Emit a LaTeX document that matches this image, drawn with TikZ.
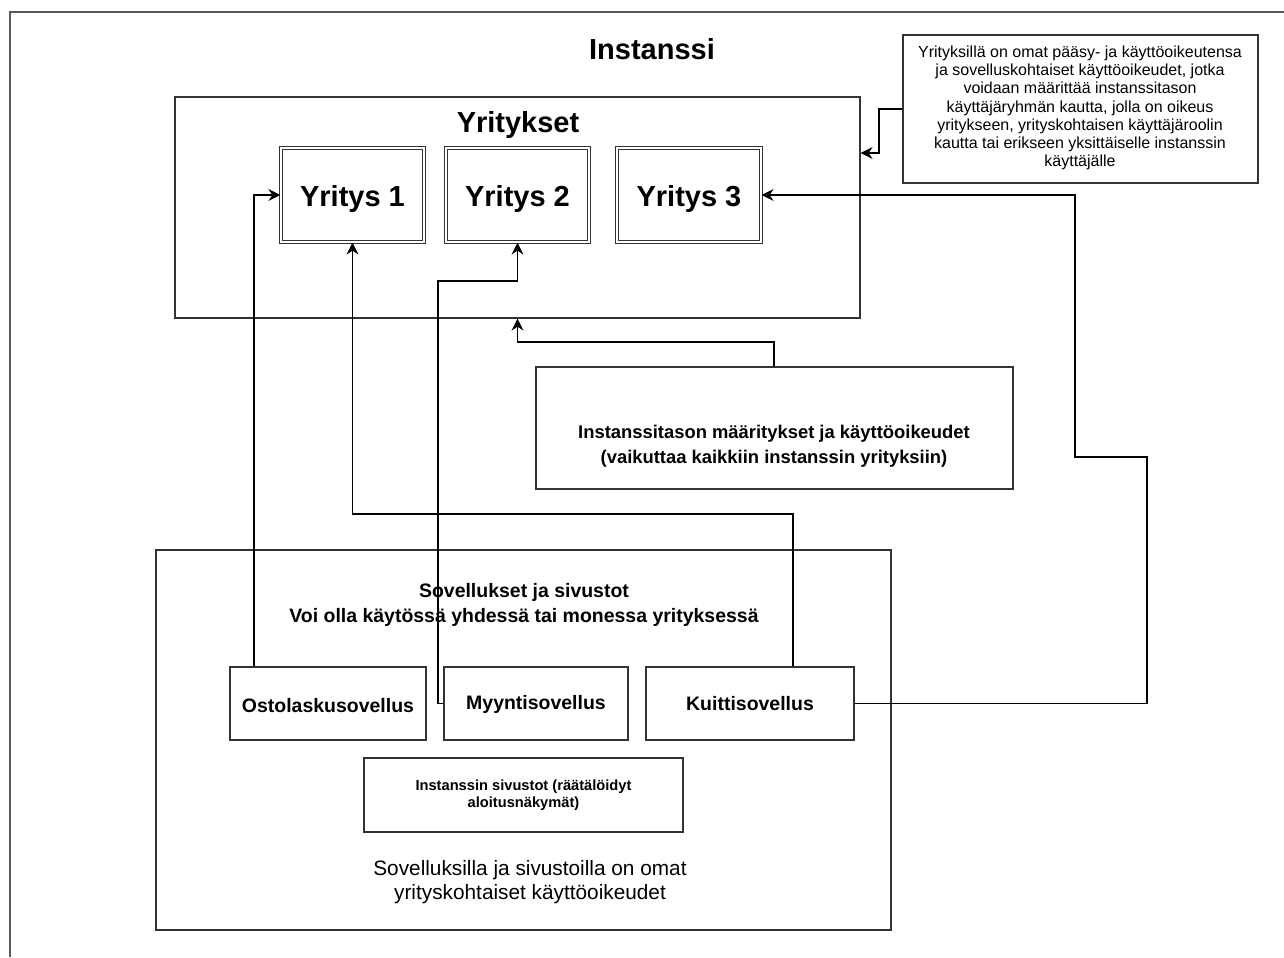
\documentclass[tikz,border=0pt]{standalone}
\usepackage{fontspec}
\setmainfont{Liberation Sans}
\usetikzlibrary{arrows.meta,fit}

\begin{document}
\begin{tikzpicture}[x=0.75pt,y=-0.75pt,
  line/.style={draw=black!80, line width=0.9pt},
  box/.style={line, rectangle, inner sep=0pt},
  firm/.style={draw=black!80, double, double distance=1.5pt, line width=0.9pt, rectangle, inner sep=0pt},
  conn/.style={draw=black, line width=0.9pt, -{Stealth[length=9pt,width=9pt,inset=3pt]}},
  txt/.style={inner sep=0pt, align=center, text=black},
  title/.style={txt, font=\fontsize{21.75pt}{26pt}\selectfont\bfseries},
]
\useasboundingbox (0,0) rectangle (1284,957);

% frame of the whole instance
\draw[draw=black!65, line width=0.9pt] (1284,12) -- (10,12) -- (10,957);
\node[title] (ttl) at (652,49) {Instanssi};

% companies
\node[box, fit={(175,97) (860,318)}] (yrit) {};
\node[title] (yrittl) at (518,125) {Yritykset};
\node[firm, fit={(281,148) (424,242)}] (y1) {};
\node[firm, fit={(446,148) (589,242)}] (y2) {};
\node[firm, fit={(617,148) (761,242)}] (y3) {};
\node[title] at ([yshift=-3pt]y1.center) {Yritys 1};
\node[title] at ([yshift=-3pt]y2.center) {Yritys 2};
\node[title] at ([yshift=-3pt]y3.center) {Yritys 3};

% note on access rights
\node[box, fit={(903,35) (1258,183)}] (note) {};
\node[txt, font=\fontsize{12pt}{13.7pt}\selectfont] at (1080,108)
  {Yrityksillä on omat pääsy- ja käyttöoikeutensa\\
   ja sovelluskohtaiset käyttöoikeudet, jotka\\
   voidaan määrittää instanssitason\\
   käyttäjäryhmän kautta, jolla on oikeus\\
   yritykseen, yrityskohtaisen käyttäjäroolin\\
   kautta tai erikseen yksittäiselle instanssin\\
   käyttäjälle};

% instance level settings
\node[box, fit={(536,367) (1013,489)}] (inst) {};
\node[txt, font=\fontsize{13.8pt}{18.75pt}\selectfont\bfseries] at (774,446)
  {Instanssitason määritykset ja käyttöoikeudet\\
   (vaikuttaa kaikkiin instanssin yrityksiin)};

% applications and sites
\node[box, fit={(156,550) (891,930)}] (sov) {};
\node[txt, font=\fontsize{14.6pt}{18.75pt}\selectfont\bfseries] at (524,605)
  {Sovellukset ja sivustot\\
   Voi olla käytössä yhdessä tai monessa yrityksessä};
\node[box, fit={(230,667) (426,740)}] (osto) {};
\node[box, fit={(444,667) (628,740)}] (myyn) {};
\node[box, fit={(646,667) (854,740)}] (kuit) {};
\node[txt, font=\fontsize{14.6pt}{18pt}\selectfont\bfseries] at (328,706) {Ostolaskusovellus};
\node[txt, font=\fontsize{14.6pt}{18pt}\selectfont\bfseries] at (536,704) {Myyntisovellus};
\node[txt, font=\fontsize{14.6pt}{18pt}\selectfont\bfseries] at (750,704) {Kuittisovellus};
\node[box, fit={(364,758) (683,832)}] (sivu) {};
\node[txt, font=\fontsize{11pt}{12.75pt}\selectfont\bfseries] at (sivu.center)
  {Instanssin sivustot (räätälöidyt\\ aloitusnäkymät)};
\node[txt, font=\fontsize{15.6pt}{18pt}\selectfont] at (530,882)
  {Sovelluksilla ja sivustoilla on omat\\ yrityskohtaiset käyttöoikeudet};

% connectors
\draw[conn] (note.west) -- (879,0 |- note.west) |- (yrit.east |- 0,153);
\draw[conn] (774,0 |- inst.north) -- (774,342) -| (yrit.south);
\draw[conn] (254,0 |- osto.north) |- (y1.west);
\draw[conn] (myyn.west) -| (438,281) -| (y2.south);
\draw[conn] (793,0 |- kuit.north) -- (793,514) -| (y1.south);
\draw[conn] (kuit.east) -| (1147,457) -- (1075,457) |- (y3.east);
\end{tikzpicture}
\end{document}
